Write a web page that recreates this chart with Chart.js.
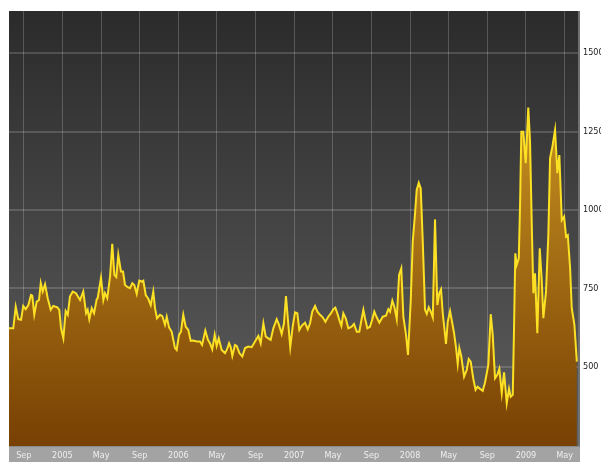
<!DOCTYPE html>
<html>
<head>
<meta charset="utf-8">
<script src="https://cdn.jsdelivr.net/npm/chart.js@4.4.1/dist/chart.umd.min.js"></script>
<style>
  html,body{margin:0;padding:0;background:#fff;}
  canvas{display:block;}
</style>
</head>
<body>
<canvas id="chart" width="601" height="462"></canvas>
<script>
// dates as decimal years
const dates = [
  2004.539,2004.576,2004.597,2004.619,2004.643,2004.662,2004.683,2004.706,2004.729,2004.740,
  2004.757,2004.778,2004.798,2004.813,2004.830,2004.850,2004.873,2004.899,2004.921,2004.956,
  2004.973,2004.988,2005.008,2005.028,2005.046,2005.065,2005.089,2005.117,2005.152,2005.180,
  2005.204,2005.218,2005.232,2005.253,2005.273,2005.296,2005.304,2005.333,2005.353,2005.367,
  2005.387,2005.411,2005.430,2005.448,2005.465,2005.482,2005.505,2005.523,2005.540,2005.563,
  2005.583,2005.603,2005.620,2005.641,2005.663,2005.684,2005.698,2005.719,2005.741,2005.762,
  2005.784,2005.799,2005.816,2005.842,2005.862,2005.885,2005.900,2005.920,2005.943,2005.971,
  2005.986,2006.006,2006.023,2006.043,2006.064,2006.086,2006.107,2006.129,2006.159,2006.187,
  2006.205,2006.233,2006.256,2006.274,2006.293,2006.314,2006.331,2006.349,2006.374,2006.403,
  2006.418,2006.438,2006.452,2006.466,2006.489,2006.504,2006.527,2006.552,2006.576,2006.604,
  2006.633,2006.662,2006.691,2006.711,2006.734,2006.754,2006.777,2006.797,2006.820,2006.849,
  2006.869,2006.892,2006.912,2006.929,2006.946,2006.966,2006.987,2007.007,2007.027,2007.044,
  2007.065,2007.093,2007.117,2007.137,2007.156,2007.180,2007.200,2007.223,2007.246,2007.269,
  2007.294,2007.318,2007.338,2007.355,2007.372,2007.389,2007.407,2007.424,2007.445,2007.467,
  2007.496,2007.516,2007.540,2007.562,2007.583,2007.597,2007.611,2007.631,2007.654,2007.674,
  2007.691,2007.712,2007.735,2007.764,2007.792,2007.812,2007.827,2007.847,2007.864,2007.885,
  2007.905,2007.924,2007.942,2007.965,2007.982,2008.006,2008.023,2008.043,2008.057,2008.075,
  2008.092,2008.109,2008.129,2008.144,2008.161,2008.181,2008.196,2008.215,2008.235,2008.252,
  2008.267,2008.282,2008.310,2008.325,2008.345,2008.362,2008.379,2008.397,2008.411,2008.425,
  2008.442,2008.466,2008.489,2008.506,2008.523,2008.546,2008.565,2008.582,2008.604,2008.627,
  2008.647,2008.675,2008.696,2008.713,2008.733,2008.753,2008.770,2008.791,2008.811,2008.834,
  2008.854,2008.868,2008.886,2008.897,2008.908,2008.920,2008.938,2008.949,2008.960,2008.977,
  2008.998,2009.020,2009.035,2009.052,2009.064,2009.078,2009.098,2009.119,2009.136,2009.150,
  2009.173,2009.193,2009.208,2009.228,2009.251,2009.271,2009.288,2009.309,2009.329,2009.346,
  2009.361,2009.381,2009.395,2009.418,2009.439
];

const values = [
  623,623,692,652,650,694,684,697,729,727,
  666,708,713,767,740,763,719,682,694,690,
  682,623,591,678,666,724,740,735,713,740,
  671,682,652,687,671,716,719,784,713,735,
  719,788,892,793,786,857,804,804,761,754,
  751,767,761,733,775,772,775,729,717,697,
  740,687,655,666,662,634,660,626,612,560,
  554,602,612,666,628,618,583,584,581,581,
  570,616,586,575,556,602,567,591,554,544,
  554,575,563,535,570,567,544,533,560,565,
  563,581,599,575,639,597,591,586,623,652,
  634,605,639,726,650,563,628,674,671,618,
  631,641,620,639,676,694,676,666,658,644,
  660,671,684,689,671,650,631,671,655,623,
  628,637,612,612,655,682,655,623,628,652,
  676,658,641,660,663,684,676,711,692,652,
  793,814,660,602,538,713,899,990,1064,1087,
  1069,904,682,669,690,674,658,970,697,735,
  747,671,573,644,678,644,609,560,510,560,
  533,469,490,525,517,461,427,437,430,424,
  451,506,668,602,464,475,494,416,483,384,
  430,405,411,623,862,825,846,1016,1249,1249,
  1149,1326,1218,920,735,798,607,878,777,655,
  740,920,1165,1202,1255,1117,1175,968,979,915,
  920,814,687,634,517
];

const tickDates = ["2004-09","2005-01","2005-05","2005-09","2006-01","2006-05","2006-09",
  "2007-01","2007-05","2007-09","2008-01","2008-05","2008-09","2009-01","2009-05"];
const tickLabels = ["Sep","2005","May","Sep","2006","May","Sep",
  "2007","May","Sep","2008","May","Sep","2009","May"];
const yTicks = [500,750,1000,1250,1500];

const FONT = '"DejaVu Sans Condensed", "DejaVu Sans", sans-serif';

function toYear(s){
  const [y,m] = s.split("-").map(Number);
  return y + (m-1)/12;
}

// plot background, label band and right edge
const bgPlugin = {
  id:"bg",
  beforeDraw(chart){
    const {ctx, chartArea:a} = chart;
    ctx.save();
    const g = ctx.createLinearGradient(0,a.top,0,a.bottom);
    g.addColorStop(0,"#2b2b2b");
    g.addColorStop(1,"#5e5e5e");
    ctx.fillStyle = g;
    ctx.fillRect(a.left,a.top,a.right-a.left,a.bottom-a.top);
    ctx.fillStyle = "#a3a3a3";
    ctx.fillRect(a.left,a.bottom,a.right-a.left+2,chart.height-a.bottom);
    ctx.fillStyle = "#8a8a8a";
    ctx.fillRect(a.left,a.bottom,a.right-a.left+2,1);
    ctx.fillStyle = "#707070";
    ctx.fillRect(a.right,a.top,2,a.bottom-a.top);
    ctx.restore();
  }
};

new Chart(document.getElementById("chart"),{
  type:"line",
  data:{
    datasets:[{
      data: dates.map((d,i)=>({x:d, y:values[i]})),
      borderColor:"#fbe024",
      borderWidth:2,
      pointRadius:0,
      tension:0,
      fill:"start",
      backgroundColor: c=>{
        const a = c.chart.chartArea;
        if(!a) return "#a06a14";
        const g = c.chart.ctx.createLinearGradient(0,a.top,0,a.bottom);
        g.addColorStop(0,"#dca82a");
        g.addColorStop(1,"#784003");
        return g;
      }
    }]
  },
  options:{
    responsive:false,
    animation:false,
    layout:{padding:{left:9,top:11,right:0,bottom:0}},
    plugins:{legend:{display:false}, tooltip:{enabled:false}},
    scales:{
      x:{
        type:"linear",
        min:2004.539,
        max:2009.449,
        z:1,
        afterBuildTicks: s=>{ s.ticks = tickDates.map(d=>({value:toYear(d)})); },
        afterFit: s=>{ s.height = 16; },
        ticks:{
          autoSkip:false, maxRotation:0, padding:4,
          color:"#eeeeee", font:{family:FONT, size:9},
          callback:(v,i)=>tickLabels[i]
        },
        grid:{color:"rgba(255,255,255,0.2)", lineWidth:1, drawTicks:false},
        border:{display:false}
      },
      y:{
        position:"right",
        min:248,
        max:1634,
        z:1,
        afterBuildTicks: s=>{ s.ticks = yTicks.map(v=>({value:v})); },
        afterFit: s=>{ s.width = 23; },
        ticks:{
          padding:5, color:"#222222", font:{family:FONT, size:9},
          callback:v=>String(v)
        },
        grid:{color:"rgba(255,255,255,0.16)", lineWidth:2, drawTicks:false},
        border:{display:false}
      }
    }
  },
  plugins:[bgPlugin]
});
</script>
</body>
</html>
